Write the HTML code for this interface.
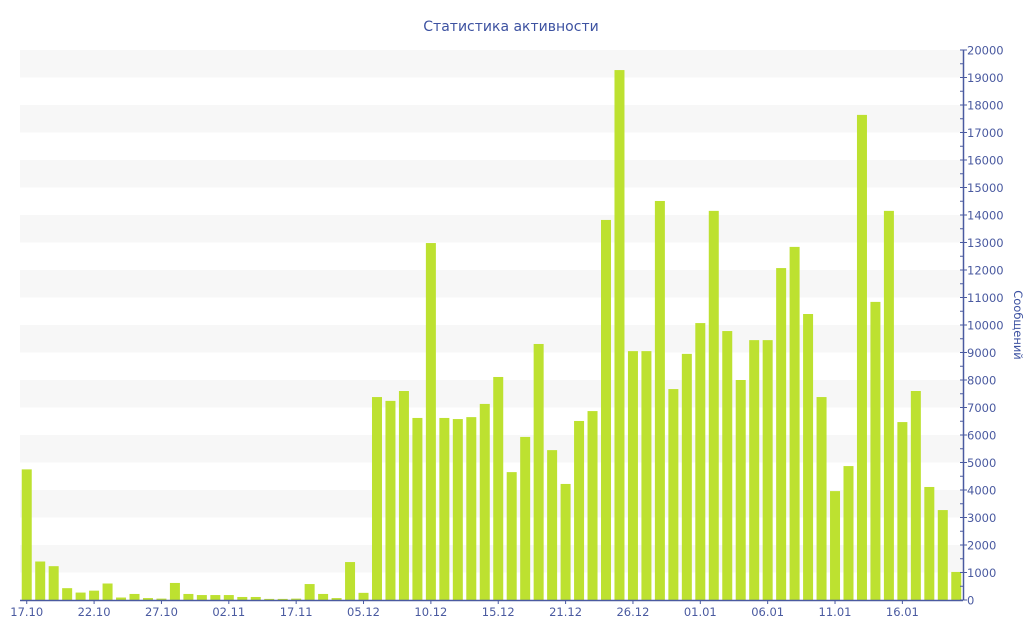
<!DOCTYPE html>
<html><head><meta charset="utf-8"><style>
html,body{margin:0;padding:0;background:#fff;width:1024px;height:640px;overflow:hidden}
svg{display:block;font-family:"DejaVu Sans","Liberation Sans",sans-serif}
</style></head><body>
<svg id="chart" width="1024" height="640" viewBox="0 0 1024 640">
<text x="511" y="31" text-anchor="middle" font-size="14" fill="#3d52a1">Статистика активности</text>
<text transform="translate(1014,325) rotate(90)" text-anchor="middle" font-size="11.5" fill="#3d52a1">Сообщений</text>
<g id="bands"></g><g id="bars"></g><g id="axes"></g>
</svg>
<script>
const values = [4750,1400,1230,430,270,340,600,90,220,70,50,620,220,180,180,180,110,110,40,40,50,580,220,70,1380,260,7380,7240,7600,6620,12980,6620,6580,6650,7130,8110,4650,5930,9310,5450,4220,6510,6870,13820,19270,9050,9050,14510,7670,8950,10070,14150,9780,8000,9450,9450,12070,12840,10400,7380,3960,4870,17640,10840,14150,6470,7600,4110,3270,1020];
const xTickLabels = ["17.10","22.10","27.10","02.11","17.11","05.12","10.12","15.12","21.12","26.12","01.01","06.01","11.01","16.01"];
const yTicks = [0,1000,2000,3000,4000,5000,6000,7000,8000,9000,10000,11000,12000,13000,14000,15000,16000,17000,18000,19000,20000];
const NS="http://www.w3.org/2000/svg";
const X0=20,X1=963,Y0=600,Y1=50,YMAX=20000;
const n=values.length, bw=(X1-X0)/n;
const y=v=>Y0-(v/YMAX)*(Y0-Y1);
const xc=i=>X0+bw*(i+0.5);
function mk(tag,attrs,parent){const e=document.createElementNS(NS,tag);for(const k in attrs)e.setAttribute(k,attrs[k]);parent.appendChild(e);return e;}
const bands=document.getElementById('bands'),bars=document.getElementById('bars'),axes=document.getElementById('axes');
for(let k=1;k<yTicks.length-1;k+=2){
  const r=mk('rect',{x:X0,y:y(yTicks[k+1]),width:X1-X0,height:y(yTicks[k])-y(yTicks[k+1]),fill:'#f7f7f7'},bands);
  
  
}
values.forEach((v,i)=>{
  const r=mk('rect',{x:xc(i)-5,y:y(v),width:10,height:Y0-y(v),fill:'#bde130'},bars);
  
  
});
const xa=mk('line',{x1:X0,y1:Y0+0.5,x2:X1,y2:Y0+0.5,stroke:'#4a5aa0','stroke-width':1.5},axes);


xTickLabels.forEach((l,j)=>{
  const i=j*5,x=xc(i);
  mk('line',{x1:x,y1:Y0,x2:x,y2:Y0+4,stroke:'#4a5aa0'},axes);
  const t=mk('text',{x:x,y:Y0+16,'text-anchor':'middle','font-size':11.5,fill:'#4a5aa0'},axes);
  t.textContent=l;
  
  
});
const ya=mk('line',{x1:X1+0.5,y1:Y1,x2:X1+0.5,y2:Y0,stroke:'#4a5aa0','stroke-width':1.5},axes);


yTicks.forEach((v,k)=>{
  const yy=y(v);
  mk('line',{x1:X1-3,y1:yy,x2:X1+4,y2:yy,stroke:'#4a5aa0'},axes);
  if(k<yTicks.length-1) mk('line',{x1:X1-3,y1:(yy+y(yTicks[k+1]))/2,x2:X1,y2:(yy+y(yTicks[k+1]))/2,stroke:'#4a5aa0'},axes);
  const t=mk('text',{x:X1+4,y:yy+4.5,'font-size':11.5,fill:'#4a5aa0'},axes);
  t.textContent=v;
  
  
});
</script>
</body></html>
